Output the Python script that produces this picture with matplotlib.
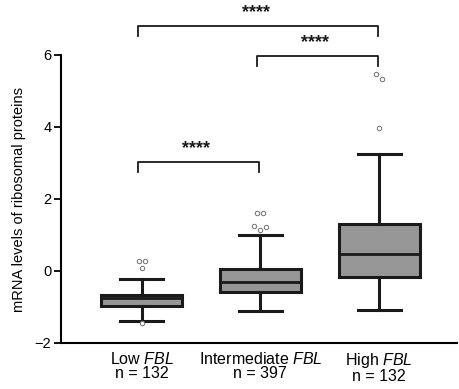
import numpy as np
import matplotlib
matplotlib.use("Agg")
import matplotlib.pyplot as plt

plt.rcParams["font.family"] = ["Liberation Sans", "DejaVu Sans"]
plt.rcParams["mathtext.fontset"] = "custom"
plt.rcParams["mathtext.it"] = "Liberation Sans:italic"
plt.rcParams["mathtext.rm"] = "Liberation Sans"

# box statistics
groups = ["Low", "Intermediate", "High"]
n_values = [132, 397, 132]
whisker_low = [-1.39, -1.11, -1.09]
q1 = [-0.97, -0.59, -0.16]
median = [-0.75, -0.30, 0.47]
q3 = [-0.67, 0.05, 1.31]
whisker_high = [-0.23, 0.99, 3.26]
outliers = [
    [0.29, 0.29, 0.08, -1.44],
    [1.60, 1.60, 1.26, 1.14, 1.23],
    [5.47, 5.33, 3.97],
]

# significance brackets: (left group, right group, height, label)
bracket_left = [0, 1, 0]
bracket_right = [2, 2, 1]
bracket_height = [6.81, 5.98, 3.04]
bracket_label = ["****", "****", "****"]


def spread_outliers(values, tol=0.2, step=0.05):
    # small horizontal offsets for outliers that sit close together
    values = np.asarray(values)
    offsets = np.zeros(len(values))
    used = np.zeros(len(values), dtype=bool)
    for i in range(len(values)):
        if used[i]:
            continue
        idx = [j for j in range(len(values)) if not used[j] and abs(values[j] - values[i]) < tol]
        for k, j in enumerate(idx):
            offsets[j] = (k - (len(idx) - 1) / 2) * step
            used[j] = True
    return offsets


def main():
    fig = plt.figure(figsize=(4.59, 3.89), dpi=100)
    ax = fig.add_axes([61 / 459, 46 / 389, 396 / 459, 288 / 389])

    positions = np.arange(1, len(groups) + 1)
    stats = []
    for i in range(len(groups)):
        stats.append(
            dict(
                whislo=whisker_low[i],
                q1=q1[i],
                med=median[i],
                q3=q3[i],
                whishi=whisker_high[i],
                fliers=[],
            )
        )

    ax.bxp(
        stats,
        positions=positions,
        widths=0.68,
        capwidths=0.36,
        patch_artist=True,
        showfliers=False,
        boxprops=dict(facecolor="#969696", edgecolor="#1a1a1a", linewidth=2.2),
        medianprops=dict(color="#1a1a1a", linewidth=2.0),
        whiskerprops=dict(color="#1a1a1a", linewidth=2.2),
        capprops=dict(color="#1a1a1a", linewidth=2.2),
    )

    for pos, vals in zip(positions, outliers):
        dx = spread_outliers(vals)
        ax.plot(
            pos + dx,
            vals,
            linestyle="none",
            marker="o",
            markersize=3.2,
            markerfacecolor="white",
            markeredgecolor="#707070",
            markeredgewidth=0.7,
            zorder=3,
        )

    # significance brackets
    leg = 0.28
    for left, right, h, lab in zip(bracket_left, bracket_right, bracket_height, bracket_label):
        x0 = positions[left] - 0.03
        x1 = positions[right] - 0.01
        ax.plot(
            [x0, x0, x1, x1],
            [h - leg, h, h, h - leg],
            color="#1a1a1a",
            linewidth=1.3,
            clip_on=False,
        )
        ax.text(
            (x0 + x1) / 2 - 0.02,
            h + 0.36,
            lab,
            ha="center",
            va="center",
            fontsize=13,
            fontweight="bold",
            color="#1a1a1a",
            clip_on=False,
        )

    ax.set_xlim(0.322, 3.655)
    ax.set_ylim(-2, 6)
    ax.set_yticks([-2, 0, 2, 4, 6])
    ax.set_xticks(positions)
    ax.set_xticklabels(
        [f"{g} $\\it{{FBL}}$\nn = {n}" for g, n in zip(groups, n_values)],
        fontsize=11.5,
        linespacing=0.85,
    )
    ax.tick_params(axis="x", length=0, pad=6)
    ax.tick_params(axis="y", length=5, width=1.3, labelsize=10.5, pad=2)
    ax.spines["top"].set_visible(False)
    ax.spines["right"].set_visible(False)
    ax.spines["left"].set_linewidth(1.5)
    ax.spines["bottom"].set_linewidth(1.5)
    ax.spines["left"].set_bounds(-2, 6)
    ax.set_ylabel("mRNA levels of ribosomal proteins", fontsize=10.5, labelpad=6)

    fig.savefig("out.png", dpi=100)


if __name__ == "__main__":
    main()
